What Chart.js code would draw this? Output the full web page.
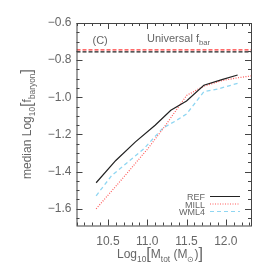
<!DOCTYPE html>
<html>
<head>
<meta charset="utf-8">
<script src="https://cdn.jsdelivr.net/npm/chart.js@4"></script>
<style>
  html, body { margin: 0; padding: 0; background: #fff; }
  #wrap { width: 274px; height: 274px; }
</style>
</head>
<body>
<div id="wrap"><canvas id="c" width="274" height="274"></canvas></div>
<script>
// values
const refX  = [10.35, 10.6, 10.85, 11.1, 11.3, 11.5, 11.72, 11.95, 12.15];
const refY  = [-1.46, -1.34, -1.24, -1.15, -1.07, -1.02, -0.935, -0.905, -0.88];
const millX = [10.35, 10.7, 11.0, 11.2, 11.5, 11.72, 11.95, 12.15, 12.32];
const millY = [-1.6, -1.43, -1.28, -1.17, -0.99, -0.94, -0.91, -0.895, -0.885];
const wmlX  = [10.35, 10.55, 10.95, 11.2, 11.35, 11.5, 11.72, 11.9, 12.15];
const wmlY  = [-1.53, -1.42, -1.28, -1.165, -1.13, -1.09, -0.97, -0.955, -0.925];
const fbarMill = -0.745;
const fbarRef = -0.755;

const xMin = 10.1, xMax = 12.32;
const yMin = -1.69, yMax = -0.6;
const xMajor = [10.5, 11.0, 11.5, 12.0];
const yMajor = [-0.6, -0.8, -1.0, -1.2, -1.4, -1.6];

const TXT = '#666';
const FONT = 'Liberation Sans, Arial, sans-serif';

const pts = (xs, ys) => xs.map((x, i) => ({ x: x, y: ys[i] }));

// draw text pieces with sub-scripts, left edge at x, baseline at y
function richWidth(ctx, parts, size) {
    let w = 0;
    parts.forEach(p => {
        ctx.font = (p.sub ? size * 0.7 : (p.big ? size * 1.35 : size)) + 'px ' + FONT;
        w += ctx.measureText(p.t).width;
    });
    return w;
}
function drawRich(ctx, parts, x, y, size) {
    parts.forEach(p => {
        const fs = p.sub ? size * 0.7 : (p.big ? size * 1.35 : size);
        ctx.font = fs + 'px ' + FONT;
        const dy = p.sub ? size * 0.3 : (p.big ? size * 0.12 : 0);
        ctx.fillText(p.t, x, y + dy);
        x += ctx.measureText(p.t).width;
    });
}

const decor = {
    id: 'decor',
    afterDatasetsDraw(chart) {
        const ctx = chart.ctx;
        const a = chart.chartArea;
        const xs = chart.scales.x, ys = chart.scales.y;
        ctx.save();
        ctx.strokeStyle = '#444';
        ctx.lineWidth = 1;
        ctx.strokeRect(a.left + 0.5, a.top + 0.5, a.right - a.left, a.bottom - a.top);

        ctx.beginPath();
        for (let v = 10.1; v <= xMax + 1e-6; v += 0.1) {
            const px = Math.round(xs.getPixelForValue(v)) + 0.5;
            const major = xMajor.some(m => Math.abs(m - v) < 1e-6);
            const len = major ? 6 : 3;
            ctx.moveTo(px, a.bottom); ctx.lineTo(px, a.bottom - len);
            ctx.moveTo(px, a.top); ctx.lineTo(px, a.top + len);
        }
        for (let v = -1.65; v <= yMax + 1e-6; v += 0.05) {
            const py = Math.round(ys.getPixelForValue(v)) + 0.5;
            const major = yMajor.some(m => Math.abs(m - v) < 1e-6);
            const len = major ? 6 : 3;
            ctx.moveTo(a.left, py); ctx.lineTo(a.left + len, py);
            ctx.moveTo(a.right, py); ctx.lineTo(a.right - len, py);
        }
        ctx.stroke();

        ctx.fillStyle = TXT;
        ctx.textBaseline = 'alphabetic';
        ctx.textAlign = 'left';
        ctx.font = '11px ' + FONT;
        ctx.fillText('(C)', a.left + 16, 44);
        drawRich(ctx, [{ t: 'Universal f' }, { t: 'bar', sub: true }], 147, 42, 11);

        // legend
        const leg = [
            { t: 'REF', c: '#222', d: [] },
            { t: 'MILL', c: '#ff5a5a', d: [1, 1.5] },
            { t: 'WML4', c: '#8fd6f2', d: [4, 3] }
        ];
        ctx.font = '9px ' + FONT;
        leg.forEach((l, i) => {
            const y = 200 + i * 7.5;
            ctx.fillStyle = TXT;
            ctx.textAlign = 'right';
            ctx.fillText(l.t, 205, y);
            ctx.beginPath();
            ctx.strokeStyle = l.c;
            ctx.setLineDash(l.d);
            ctx.lineWidth = 1;
            ctx.moveTo(210, y - 3.5); ctx.lineTo(240, y - 3.5);
            ctx.stroke();
        });
        ctx.setLineDash([]);

        // x title
        ctx.textAlign = 'left';
        const xt = [{ t: 'Log' }, { t: '10', sub: true }, { t: '[', big: true }, { t: 'M' },
                    { t: 'tot', sub: true }, { t: ' (M' }, { t: '\u2299', sub: true }, { t: ')' }, { t: ']', big: true }];
        const xw = richWidth(ctx, xt, 12);
        drawRich(ctx, xt, 160 - xw / 2, 258, 12);

        // y title
        const yt = [{ t: 'median Log' }, { t: '10', sub: true }, { t: '[', big: true }, { t: 'f' },
                    { t: 'baryon', sub: true }, { t: ']', big: true }];
        const yw = richWidth(ctx, yt, 12);
        ctx.translate(31, 124);
        ctx.rotate(-Math.PI / 2);
        drawRich(ctx, yt, -yw / 2, 0, 12);
        ctx.restore();
    }
};

new Chart(document.getElementById('c'), {
    type: 'line',
    data: {
        datasets: [
            { label: 'fbar MILL', data: pts([xMin, xMax], [fbarMill, fbarMill]), borderColor: '#ff3b3b', borderDash: [4, 2], borderWidth: 1.2 },
            { label: 'fbar REF', data: pts([xMin, xMax], [fbarRef, fbarRef]), borderColor: '#222', borderDash: [4, 2], borderWidth: 1.2 },
            { label: 'REF', data: pts(refX, refY), borderColor: '#222', borderWidth: 1.2 },
            { label: 'MILL', data: pts(millX, millY), borderColor: '#ff5a5a', borderDash: [1, 1.5], borderWidth: 1.2 },
            { label: 'WML4', data: pts(wmlX, wmlY), borderColor: '#8fd6f2', borderDash: [4, 3], borderWidth: 1.3 }
        ]
    },
    options: {
        responsive: false,
        animation: false,
        parsing: false,
        elements: { point: { radius: 0 }, line: { tension: 0, fill: false } },
        layout: { padding: { left: 0, right: 23, top: 23, bottom: 0 } },
        plugins: { legend: { display: false }, tooltip: { enabled: false } },
        scales: {
            x: {
                type: 'linear', min: xMin, max: xMax,
                afterBuildTicks: s => { s.ticks = xMajor.map(v => ({ value: v })); },
                afterFit: s => { s.height = 48.5; },
                grid: { display: false, drawTicks: false },
                border: { display: false },
                ticks: { color: TXT, font: { family: FONT, size: 12 }, padding: 9, maxRotation: 0,
                         callback: v => v.toFixed(1) }
            },
            y: {
                type: 'linear', min: yMin, max: yMax,
                afterBuildTicks: s => { s.ticks = yMajor.map(v => ({ value: v })); },
                afterFit: s => { s.width = 76.5; },
                grid: { display: false, drawTicks: false },
                border: { display: false },
                ticks: { color: TXT, font: { family: FONT, size: 12 }, padding: 5,
                         callback: v => '\u2212' + Math.abs(v).toFixed(1) }
            }
        }
    },
    plugins: [decor]
});
</script>
</body>
</html>
